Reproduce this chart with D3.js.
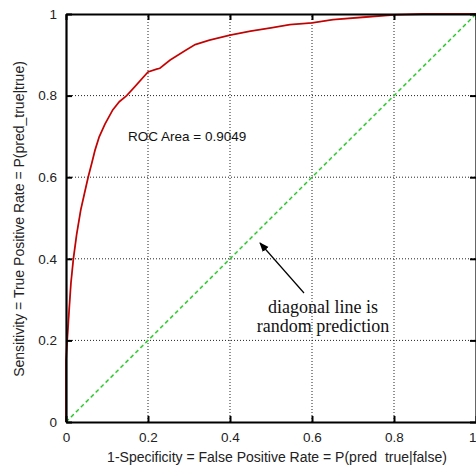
<!DOCTYPE html>
<html>
<head>
<meta charset="utf-8">
<script src="https://cdn.jsdelivr.net/npm/d3@7/dist/d3.min.js"></script>
<style>
  html, body { margin: 0; padding: 0; background: #fff; }
  svg { display: block; }
</style>
</head>
<body>
<svg id="chart" width="476" height="467"></svg>
<script>
// ROC curve: false positive rate vs. true positive rate
const fpr = [0, 0, 0.003, 0.008, 0.012, 0.018, 0.026, 0.036, 0.045, 0.054, 0.063, 0.071, 0.081,
  0.095, 0.114, 0.13, 0.148, 0.168, 0.2, 0.221, 0.229, 0.254, 0.29, 0.315, 0.35, 0.4, 0.45,
  0.5, 0.546, 0.6, 0.651, 0.724, 0.8, 0.87, 1];
const tpr = [0, 0.15, 0.2, 0.28, 0.34, 0.40, 0.46, 0.52, 0.56, 0.60, 0.635, 0.667, 0.699,
  0.73, 0.765, 0.785, 0.80, 0.822, 0.858, 0.865, 0.867, 0.887, 0.91, 0.925, 0.936, 0.948, 0.958,
  0.966, 0.974, 0.978, 0.986, 0.992, 0.998, 1.0, 1];
// random-prediction diagonal
const diagonal = [[0, 0], [1, 1]];
const tickValues = [0, 0.2, 0.4, 0.6, 0.8, 1];
const tickLabels = ["0", "0.2", "0.4", "0.6", "0.8", "1"];
const rocArea = "0.9049";

const svg = d3.select("#chart");
const plotLeft = 66, plotRight = 476, plotTop = 14, plotBottom = 422;

const x = d3.scaleLinear().domain([0, 1]).range([plotLeft, plotRight]);
const y = d3.scaleLinear().domain([0, 1]).range([plotBottom, plotTop]);

const sans = "'Liberation Sans', Arial, Helvetica, sans-serif";
const serif = "'Liberation Serif', 'Times New Roman', serif";

// dotted grid
const grid = svg.append("g").attr("stroke", "#222").attr("stroke-width", 1)
  .attr("stroke-dasharray", "1,2");
tickValues.slice(1, -1).forEach(v => {
  grid.append("line").attr("x1", x(v)).attr("x2", x(v)).attr("y1", y(0)).attr("y2", y(1));
  grid.append("line").attr("x1", x(0)).attr("x2", x(1)).attr("y1", y(v)).attr("y2", y(v));
});

// diagonal
const diagLine = d3.line().x(d => x(d[0])).y(d => y(d[1]));
svg.append("path")
  .datum(diagonal)
  .attr("d", diagLine)
  .attr("fill", "none").attr("stroke", "#9be89b").attr("stroke-width", 2.4)
  .attr("stroke-dasharray", "4,3").attr("opacity", 0.6);
svg.append("path")
  .datum(diagonal)
  .attr("d", diagLine)
  .attr("fill", "none").attr("stroke", "#22c022").attr("stroke-width", 1.1)
  .attr("stroke-dasharray", "4,3");

// ROC curve
const rocPts = fpr.map((f, i) => [f, tpr[i]]);
const rocLine = d3.line().x(d => x(d[0])).y(d => y(d[1]));
svg.append("path").datum(rocPts).attr("d", rocLine)
  .attr("fill", "none").attr("stroke", "#ee1111").attr("stroke-width", 1.8);
svg.append("path").datum(rocPts).attr("d", rocLine)
  .attr("fill", "none").attr("stroke", "#330000").attr("stroke-width", 0.7).attr("opacity", 0.6);

// axes with inward ticks on all four sides
const axisBottom = d3.axisBottom(x).tickValues(tickValues).tickSizeInner(-6).tickSizeOuter(0)
  .tickFormat((d, i) => tickLabels[i]).tickPadding(10);
const axisLeft = d3.axisLeft(y).tickValues(tickValues).tickSizeInner(-6).tickSizeOuter(0)
  .tickFormat((d, i) => tickLabels[i]).tickPadding(9);
const axisTop = d3.axisTop(x).tickValues(tickValues).tickSizeInner(-6).tickSizeOuter(0).tickFormat("");
const axisRight = d3.axisRight(y).tickValues(tickValues).tickSizeInner(-6).tickSizeOuter(0).tickFormat("");

function style(g) {
  g.selectAll(".domain").attr("stroke", "#000").attr("stroke-width", 2.2);
  g.selectAll(".tick line").attr("stroke", "#000").attr("stroke-width", 2);
  g.selectAll(".tick text").attr("fill", "#222").style("font-family", sans).style("font-size", "13.5px");
}
const gx = svg.append("g").attr("transform", `translate(0,${plotBottom})`).call(axisBottom).call(style);
// last label sits at the window edge: keep it inside
gx.selectAll(".tick text").filter(d => d === 1).attr("text-anchor", "end").attr("dx", 0);
svg.append("g").attr("transform", `translate(${plotLeft},0)`).call(axisLeft).call(style);
svg.append("g").attr("transform", `translate(0,${plotTop})`).call(axisTop).call(style);
svg.append("g").attr("transform", `translate(${plotRight},0)`).call(axisRight).call(style);

// axis titles
svg.append("text")
  .attr("x", 277).attr("y", 462).attr("text-anchor", "middle")
  .style("font-family", sans).style("font-size", "14px").style("white-space", "pre")
  .attr("fill", "#222")
  .text("1-Specificity = False Positive Rate = P(pred  true|false)");
svg.append("text")
  .attr("transform", "translate(24,219) rotate(-90)").attr("text-anchor", "middle")
  .style("font-family", sans).style("font-size", "14px").attr("fill", "#222")
  .text("Sensitivity = True Positive Rate = P(pred_true|true)");

// area annotation
svg.append("text")
  .attr("x", 128).attr("y", 141)
  .style("font-family", sans).style("font-size", "13.5px").attr("fill", "#111")
  .text("ROC Area = " + rocArea);

// diagonal note with arrow
svg.append("defs").append("marker")
  .attr("id", "head").attr("viewBox", "0 0 10 10").attr("refX", 9).attr("refY", 5)
  .attr("markerWidth", 8).attr("markerHeight", 8).attr("orient", "auto")
  .append("path").attr("d", "M0,1 L10,5 L0,9 Z").attr("fill", "#000");
svg.append("line")
  .attr("x1", 304).attr("y1", 293).attr("x2", 260).attr("y2", 243)
  .attr("stroke", "#000").attr("stroke-width", 1.2).attr("marker-end", "url(#head)");
const note = svg.append("text").attr("text-anchor", "middle")
  .style("font-family", serif).style("font-size", "18px").attr("fill", "#111");
note.append("tspan").attr("x", 323).attr("y", 313).text("diagonal line is");
note.append("tspan").attr("x", 323).attr("y", 332).text("random prediction");
</script>
</body>
</html>
